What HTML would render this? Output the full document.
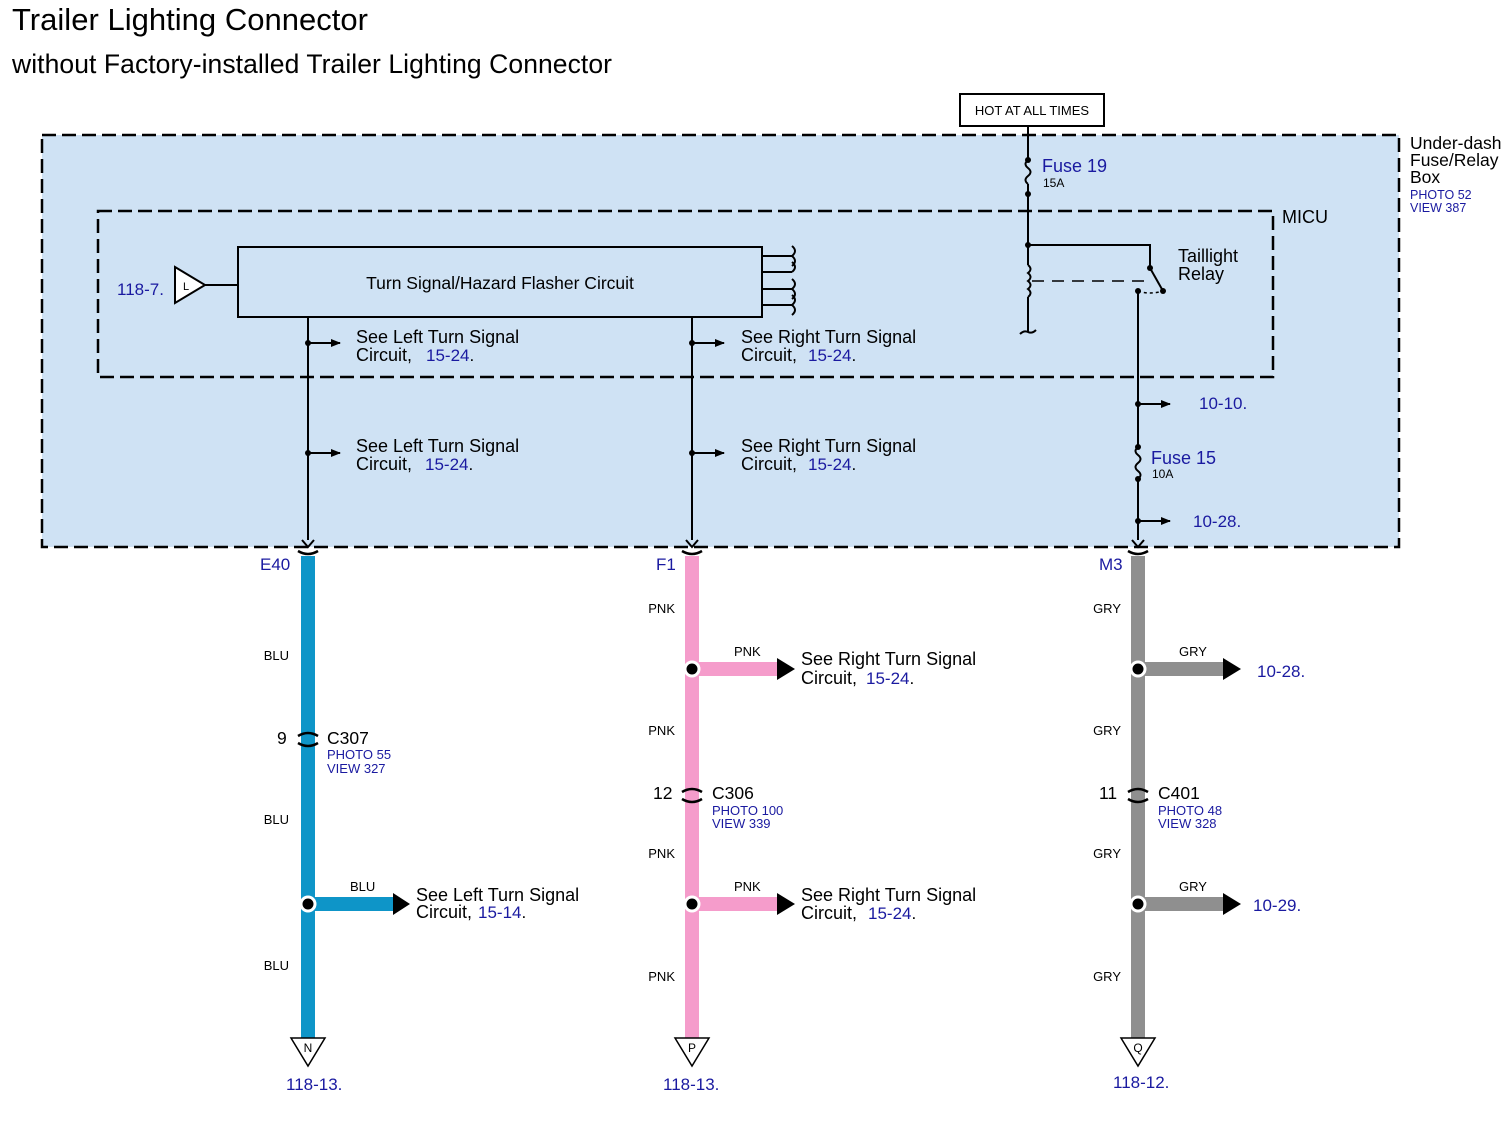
<!DOCTYPE html>
<html><head><meta charset="utf-8"><style>
html,body{margin:0;padding:0;background:#fff;}
svg{display:block;font-family:"Liberation Sans",Arial,sans-serif;}
.b{fill:#1a1aa0}
</style></head><body>
<svg width="1510" height="1126" viewBox="0 0 1510 1126" xmlns="http://www.w3.org/2000/svg">
<defs>
<marker id="ah" markerWidth="10" markerHeight="8" refX="9" refY="4" orient="auto" markerUnits="userSpaceOnUse"><path d="M0,0 L10,4 L0,8 Z" fill="#000"/></marker>
</defs>
<text x="12" y="30" font-size="31" fill="#000" textLength="356">Trailer Lighting Connector</text>
<text x="12" y="73" font-size="26.5" fill="#000" textLength="600">without Factory-installed Trailer Lighting Connector</text>

<!-- outer box -->
<rect x="42" y="135" width="1357" height="412" fill="#cfe2f4" stroke="#000" stroke-width="2.5" stroke-dasharray="14,6"/>
<rect x="98" y="211" width="1175" height="166" fill="none" stroke="#000" stroke-width="2.5" stroke-dasharray="14,6"/>
<text x="1410" y="149" font-size="17.5">Under-dash</text>
<text x="1410" y="166" font-size="17.5">Fuse/Relay</text>
<text x="1410" y="183" font-size="17.5">Box</text>
<text x="1410" y="199" font-size="12.5" class="b">PHOTO 52</text>
<text x="1410" y="212" font-size="12.5" class="b">VIEW 387</text>
<text x="1282" y="223" font-size="18">MICU</text>

<!-- HOT AT ALL TIMES -->
<rect x="960" y="94" width="144" height="32" fill="#fff" stroke="#000" stroke-width="2"/>
<text x="1032" y="115" font-size="13" text-anchor="middle">HOT AT ALL TIMES</text>

<g stroke="#000" stroke-width="2" fill="none">
<line x1="1028" y1="126" x2="1028" y2="160"/>
<path d="M1028,160 q-5,4 0,8 q5,4 0,8 q-5,4 0,8"/>
<line x1="1028" y1="184" x2="1028" y2="245"/>
<path d="M1028,245 H1150 V268"/>
<line x1="1028" y1="245" x2="1028" y2="265"/>
<path d="M1028,265 q5,4 0,8 q5,4 0,8 q5,4 0,8 q5,4 0,8"/>
<line x1="1028" y1="297" x2="1028" y2="332"/>
<path d="M1020,334 q4,-4 8,-2 q4,2 8,-2"/>
<line x1="1150" y1="268" x2="1163" y2="291"/>
<line x1="1032" y1="281" x2="1150" y2="281" stroke-dasharray="12,8" stroke-width="1.5"/>
<path d="M1138,291 q12,4 25,0" stroke-dasharray="3,3" stroke-width="1.5"/>
<path d="M1132,540 L1138,547 L1144,540"/>
</g>
<g fill="#000">
<circle cx="1028" cy="160" r="3"/><circle cx="1028" cy="194" r="3"/><circle cx="1028" cy="245" r="3"/>
<circle cx="1150" cy="268" r="3"/><circle cx="1163" cy="291" r="3"/><circle cx="1138" cy="291" r="3"/>
</g>
<text x="1042" y="172" font-size="18" class="b">Fuse 19</text>
<text x="1043" y="187" font-size="12">15A</text>
<text x="1178" y="262" font-size="18">Taillight</text>
<text x="1178" y="280" font-size="18">Relay</text>

<!-- fuse 15 branch -->
<g stroke="#000" stroke-width="2" fill="none">
<line x1="1138" y1="404" x2="1170" y2="404" marker-end="url(#ah)"/>
<line x1="1138" y1="521" x2="1170" y2="521" marker-end="url(#ah)"/>
<line x1="1138" y1="291" x2="1138" y2="447"/>
<path d="M1138,447 q-5,4 0,8 q5,4 0,8 q-5,4 0,8 q5,4 0,8"/>
<line x1="1138" y1="479" x2="1138" y2="540"/>
</g>
<g fill="#000"><circle cx="1138" cy="404" r="3"/><circle cx="1138" cy="447" r="3"/><circle cx="1138" cy="479" r="3"/><circle cx="1138" cy="521" r="3"/></g>
<text x="1199" y="409" font-size="17" class="b">10-10.</text>
<text x="1151" y="464" font-size="18" class="b">Fuse 15</text>
<text x="1152" y="478" font-size="12">10A</text>
<text x="1193" y="527" font-size="17" class="b">10-28.</text>

<!-- flasher -->
<rect x="238" y="247" width="524" height="70" fill="#cfe2f4" stroke="#000" stroke-width="2"/>
<text x="500" y="289" font-size="17.5" text-anchor="middle">Turn Signal/Hazard Flasher Circuit</text>
<g stroke="#000" stroke-width="2" fill="none">
<line x1="762" y1="256" x2="792" y2="256"/><line x1="762" y1="272" x2="792" y2="272"/>
<line x1="762" y1="289" x2="792" y2="289"/><line x1="762" y1="305" x2="792" y2="305"/>
<path d="M792,246 q6,5 0,10 q6,5 0,10 M792,262 q6,5 0,10 M792,279 q6,5 0,10 q6,5 0,10 M792,295 q6,5 0,10 q6,5 0,10"/>
<line x1="205" y1="285" x2="238" y2="285"/>
<path d="M175,267 L205,285 L175,303 Z" fill="#fff"/>
<line x1="308" y1="317" x2="308" y2="540"/>
<line x1="692" y1="317" x2="692" y2="540"/>
<path d="M302,540 L308,547 L314,540 M686,540 L692,547 L698,540"/>
<line x1="308" y1="343" x2="340" y2="343" marker-end="url(#ah)"/>
<line x1="308" y1="453" x2="340" y2="453" marker-end="url(#ah)"/>
<line x1="692" y1="343" x2="724" y2="343" marker-end="url(#ah)"/>
<line x1="692" y1="453" x2="724" y2="453" marker-end="url(#ah)"/>
</g>
<g fill="#000"><circle cx="308" cy="343" r="3"/><circle cx="308" cy="453" r="3"/><circle cx="692" cy="343" r="3"/><circle cx="692" cy="453" r="3"/></g>
<text x="183" y="290" font-size="11">L</text>
<text x="117" y="295" font-size="17" class="b">118-7.</text>
<g font-size="18">
<text x="356" y="343">See Left Turn Signal</text><text x="356" y="361">Circuit,</text><text x="426" y="361" class="b" font-size="17">15-24<tspan fill="#000">.</tspan></text>
<text x="356" y="452">See Left Turn Signal</text><text x="356" y="470">Circuit,</text><text x="425" y="470" class="b" font-size="17">15-24<tspan fill="#000">.</tspan></text>
<text x="741" y="343">See Right Turn Signal</text><text x="741" y="361">Circuit,</text><text x="808" y="361" class="b" font-size="17">15-24<tspan fill="#000">.</tspan></text>
<text x="741" y="452">See Right Turn Signal</text><text x="741" y="470">Circuit,</text><text x="808" y="470" class="b" font-size="17">15-24<tspan fill="#000">.</tspan></text>
</g>

<!-- wires -->
<line x1="308" y1="556" x2="308" y2="1040" stroke="#0e95c8" stroke-width="14"/>
<line x1="692" y1="556" x2="692" y2="1040" stroke="#f59ccb" stroke-width="14"/>
<line x1="1138" y1="556" x2="1138" y2="1040" stroke="#8f8f8f" stroke-width="14"/>
<line x1="308" y1="904" x2="395" y2="904" stroke="#0e95c8" stroke-width="14"/>
<line x1="692" y1="669" x2="779" y2="669" stroke="#f59ccb" stroke-width="14"/>
<line x1="692" y1="904" x2="779" y2="904" stroke="#f59ccb" stroke-width="14"/>
<line x1="1138" y1="669" x2="1225" y2="669" stroke="#8f8f8f" stroke-width="14"/>
<line x1="1138" y1="904" x2="1225" y2="904" stroke="#8f8f8f" stroke-width="14"/>
<g fill="#000">
<path d="M393,893 L410,904 L393,915Z"/><path d="M777,658 L795,669 L777,680Z"/><path d="M777,893 L795,904 L777,915Z"/>
<path d="M1223,658 L1241,669 L1223,680Z"/><path d="M1223,893 L1241,904 L1223,915Z"/>
</g>
<g fill="#000" stroke="#fff" stroke-width="3">
<circle cx="308" cy="904" r="7"/><circle cx="692" cy="669" r="7"/><circle cx="692" cy="904" r="7"/>
<circle cx="1138" cy="669" r="7"/><circle cx="1138" cy="904" r="7"/>
</g>
<g stroke="#000" stroke-width="2.5" fill="none">
<path d="M298,551 q10,6 20,0 M682,551 q10,6 20,0 M1128,551 q10,6 20,0"/>
<path d="M298,736 q10,-6 20,0 M298,743 q10,6 20,0"/>
<path d="M682,792 q10,-6 20,0 M682,799 q10,6 20,0"/>
<path d="M1128,792 q10,-6 20,0 M1128,799 q10,6 20,0"/>
</g>
<g stroke="#000" stroke-width="1.5" fill="#fff">
<path d="M291,1038 L325,1038 L308,1066 Z"/><path d="M675,1038 L709,1038 L692,1066 Z"/><path d="M1121,1038 L1155,1038 L1138,1066 Z"/>
</g>
<g font-size="12" text-anchor="middle"><text x="308" y="1052">N</text><text x="692" y="1052">P</text><text x="1138" y="1052">Q</text></g>
<g font-size="17" class="b">
<text x="286" y="1090">118-13.</text><text x="663" y="1090">118-13.</text><text x="1113" y="1088">118-12.</text>
<text x="260" y="570">E40</text><text x="656" y="570">F1</text><text x="1099" y="570">M3</text>
<text x="1257" y="677">10-28.</text><text x="1253" y="911">10-29.</text>
</g>
<g font-size="13" text-anchor="end">
<text x="289" y="660">BLU</text><text x="289" y="824">BLU</text><text x="289" y="970">BLU</text>
<text x="675" y="613">PNK</text><text x="675" y="735">PNK</text><text x="675" y="858">PNK</text><text x="675" y="981">PNK</text>
<text x="1121" y="613">GRY</text><text x="1121" y="735">GRY</text><text x="1121" y="858">GRY</text><text x="1121" y="981">GRY</text>
</g>
<g font-size="13">
<text x="350" y="891">BLU</text><text x="734" y="656">PNK</text><text x="734" y="891">PNK</text>
<text x="1179" y="656">GRY</text><text x="1179" y="891">GRY</text>
</g>
<g font-size="17.5">
<text x="277" y="744">9</text><text x="327" y="744">C307</text>
<text x="653" y="799">12</text><text x="712" y="799">C306</text>
<text x="1099" y="799">11</text><text x="1158" y="799">C401</text>
</g>
<g font-size="18">
<text x="801" y="665">See Right Turn Signal</text><text x="801" y="684">Circuit,</text><text x="866" y="684" class="b" font-size="17">15-24<tspan fill="#000">.</tspan></text>
<text x="801" y="901">See Right Turn Signal</text><text x="801" y="919">Circuit,</text><text x="868" y="919" class="b" font-size="17">15-24<tspan fill="#000">.</tspan></text>
<text x="416" y="901">See Left Turn Signal</text><text x="416" y="918">Circuit,</text><text x="478" y="918" class="b" font-size="17">15-14<tspan fill="#000">.</tspan></text>
</g>
<g font-size="13" class="b">
<text x="327" y="759">PHOTO 55</text><text x="327" y="773">VIEW 327</text>
<text x="712" y="815">PHOTO 100</text><text x="712" y="828">VIEW 339</text>
<text x="1158" y="815">PHOTO 48</text><text x="1158" y="828">VIEW 328</text>
</g>
</svg>
</body></html>
